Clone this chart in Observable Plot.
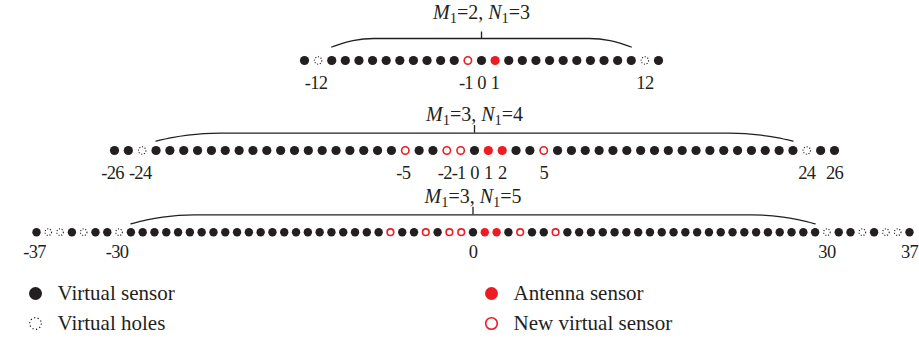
<!DOCTYPE html>
<html><head><meta charset="utf-8">
<script src="https://cdn.jsdelivr.net/npm/d3@7"></script>
<script src="https://cdn.jsdelivr.net/npm/@observablehq/plot@0.6"></script>
<style>
body{margin:0;background:#fff;}
#chart svg{display:block;}
#chart g[aria-label="x-axis tick label"] text{letter-spacing:-0.7px;}
</style></head><body><div id="chart"></div>
<script>
// ---------------- data ----------------
const M1 = [2, 3, 3];
const N1 = [3, 4, 5];
const row1Extent = [-13, 13];
const row2Extent = [-26, 26];
const row3Extent = [-37, 37];
const row1Holes = [-12, 12];
const row2Holes = [-24, 24];
const row3Holes = [-36, -35, -33, -30, 30, 33, 35, 36];
const row1Antenna = [1];
const row2Antenna = [1, 2];
const row3Antenna = [1, 2];
const row1NewVirtual = [-1];
const row2NewVirtual = [-5, -2, -1, 5];
const row3NewVirtual = [-7, -4, -2, -1, 4, 7];
const row1Contiguous = [-11, 11];
const row2Contiguous = [-23, 23];
const row3Contiguous = [-29, 29];
const row1Ticks = [-12, -1, 0, 1, 12];
const row2Ticks = [-26, -24, -5, -2, -1, 0, 1, 2, 5, 24, 26];
const row3Ticks = [-37, -30, 0, 30, 37];
const legendLabels = ["Virtual sensor", "Virtual holes", "Antenna sensor", "New virtual sensor"];
const legendKinds = ["virtual", "hole", "antenna", "new"];

// ---------------- layout / style ----------------
const W = 919;
const BLACK = "#231f20", RED = "#ed1c24";
const FONT = "'Liberation Serif', 'DejaVu Serif', serif";
const TICK_FONT = 18.5;
const rowLayout = [
  {height: 95, ml: 304, mr: 261, dotY: 60,   titleY: 18, braceFlat: 38,   braceEnd: 46.5, tickTop: 31.5, curve: 3.1, r: 4.6, labelPad: 15.5},
  {height: 90, ml: 114, mr: 85,  dotY: 55,   titleY: 25, braceFlat: 37.7, braceEnd: 45.7, tickTop: 30,   curve: 4.6, r: 4.6, labelPad: 15.5},
  {height: 85, ml: 36,  mr: 10,  dotY: 46.7, titleY: 17, braceFlat: 29.3, braceEnd: 38.3, tickTop: 21.7, curve: 5.4, r: 4.2, labelPad: 12.5}
];
const rows = [
  {extent: row1Extent, holes: row1Holes, antenna: row1Antenna, newV: row1NewVirtual, contiguous: row1Contiguous, ticks: row1Ticks},
  {extent: row2Extent, holes: row2Holes, antenna: row2Antenna, newV: row2NewVirtual, contiguous: row2Contiguous, ticks: row2Ticks},
  {extent: row3Extent, holes: row3Holes, antenna: row3Antenna, newV: row3NewVirtual, contiguous: row3Contiguous, ticks: row3Ticks}
];

const chart = document.getElementById("chart");
const titleString = i => `M1=${M1[i]}, N1=${N1[i]}`;

function styleTitle(svg, i) {
  const s = titleString(i);
  const NS = "http://www.w3.org/2000/svg";
  for (const t of svg.querySelectorAll("text")) {
    if (t.textContent === s) {
      t.textContent = "";
      const parts = [
        ["M", {"font-style": "italic"}],
        ["1", {"font-size": "14.5px", dy: 4}],
        [`=${M1[i]}, `, {dy: -4}],
        ["N", {"font-style": "italic"}],
        ["1", {"font-size": "14.5px", dy: 4}],
        [`=${N1[i]}`, {dy: -4}]
      ];
      for (const [txt, attrs] of parts) {
        const ts = document.createElementNS(NS, "tspan");
        for (const k in attrs) ts.setAttribute(k, attrs[k]);
        ts.textContent = txt;
        t.appendChild(ts);
      }
    }
  }
}

rows.forEach((R, i) => {
  const L = rowLayout[i];
  const special = new Set([...R.holes, ...R.antenna, ...R.newV]);
  const virtual = d3.range(R.extent[0], R.extent[1] + 1).filter(p => !special.has(p));
  const [lo, hi] = R.contiguous;
  const c = L.curve, d = L.braceEnd - L.braceFlat;
  const brace = [
    [lo, L.braceEnd], [lo + 0.25 * c, L.braceFlat + 0.5625 * d], [lo + 0.5 * c, L.braceFlat + 0.25 * d], [lo + c, L.braceFlat],
    [hi - c, L.braceFlat], [hi - 0.5 * c, L.braceFlat + 0.25 * d], [hi - 0.25 * c, L.braceFlat + 0.5625 * d], [hi, L.braceEnd]
  ];
  const axisOpts = {anchor: "bottom", tickSize: 0, tickPadding: L.labelPad, tickFormat: v => String(v), fontSize: TICK_FONT, fill: BLACK};
  const svg = Plot.plot({
    width: W, height: L.height,
    marginLeft: L.ml, marginRight: L.mr, marginTop: 0, marginBottom: L.height - L.dotY,
    x: {domain: R.extent, label: null},
    y: {domain: [0, L.dotY], reverse: true, axis: null},
    style: {fontFamily: FONT, color: BLACK, background: "white", overflow: "visible"},
    marks: [
      Plot.line(brace, {x: p => p[0], y: p => p[1], curve: "monotone-x", stroke: BLACK, strokeWidth: 1.3}),
      Plot.ruleX([0], {y1: L.tickTop, y2: L.braceFlat, stroke: BLACK, strokeWidth: 1.3}),
      Plot.text([titleString(i)], {x: 0, y: L.titleY, text: t => t, lineAnchor: "bottom", fontSize: 20, fill: BLACK}),
      Plot.dot(virtual, {x: p => p, y: L.dotY, r: L.r, fill: BLACK}),
      Plot.dot(R.antenna, {x: p => p, y: L.dotY, r: L.r, fill: RED}),
      Plot.dot(R.newV, {x: p => p, y: L.dotY, r: L.r - 0.9, fill: "white", stroke: RED, strokeWidth: 1.6}),
      Plot.dot(R.holes, {x: p => p, y: L.dotY, r: L.r - 0.9, fill: "none", stroke: BLACK, strokeWidth: 1.1, strokeDasharray: "1.1 1.7"}),
      Plot.axisX(R.ticks.filter(t => t < 0), {...axisOpts, dx: -2}),
      Plot.axisX(R.ticks.filter(t => t >= 0), axisOpts)
    ]
  });
  styleTitle(svg, i);
  chart.appendChild(svg);
});

// ---------------- legend ----------------
const legend = legendLabels.map((label, i) => ({label, kind: legendKinds[i], col: Math.floor(i / 2), row: i % 2}));
const legendSvg = Plot.plot({
  width: W, height: 69, margin: 0,
  x: {type: "point", domain: [0, 1], range: [35, 491], padding: 0, axis: null},
  y: {type: "point", domain: [0, 1], range: [23, 53], padding: 0, axis: null},
  style: {fontFamily: FONT, color: BLACK, background: "white"},
  marks: [
    Plot.dot(legend.filter(e => e.kind === "virtual"), {x: "col", y: "row", r: 6.5, fill: BLACK}),
    Plot.dot(legend.filter(e => e.kind === "antenna"), {x: "col", y: "row", r: 6.5, fill: RED}),
    Plot.dot(legend.filter(e => e.kind === "new"), {x: "col", y: "row", r: 5.8, fill: "white", stroke: RED, strokeWidth: 1.6}),
    Plot.dot(legend.filter(e => e.kind === "hole"), {x: "col", y: "row", r: 5.8, fill: "none", stroke: BLACK, strokeWidth: 1.2, strokeDasharray: "1.2 2.4"}),
    Plot.text(legend, {x: "col", y: "row", text: "label", dx: 22, textAnchor: "start", lineAnchor: "middle", fontSize: 21, fill: BLACK})
  ]
});
chart.appendChild(legendSvg);
</script>
</body></html>
